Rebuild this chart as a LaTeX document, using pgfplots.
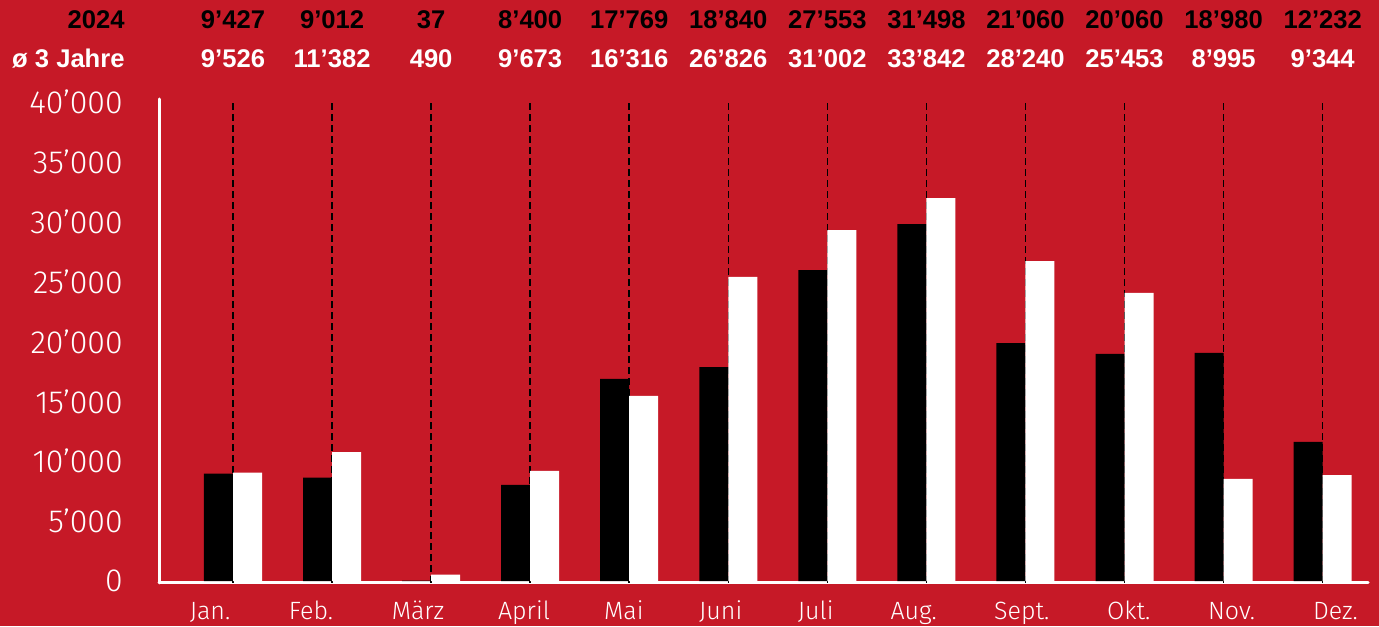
\documentclass[border=0pt]{standalone}
\usepackage{fontspec}
\usepackage{pgfplots}
\usepackage{pgfplotstable}
\pgfplotsset{compat=1.18}
\setmainfont{Liberation Sans}
\newfontfamily\lightfont{Fira Sans Light}
\definecolor{bgred}{RGB}{198,25,39}

\pgfplotstableread{
x a b
0 8960 9040
1 8630 10770
2 37 530
3 8020 9190
4 16870 15450
5 17870 25390
6 25970 29310
7 29810 31980
8 19870 26720
9 18960 24050
10 19040 8520
11 11610 8850
}\datatable

\begin{document}
\begin{tikzpicture}[x=0.5pt,y=0.5pt]
\fill[bgred] (0,0) rectangle (1379,626);
\begin{axis}[
  at={(79.5pt,21.6pt)}, anchor=south west, scale only axis,
  width=604.5pt, height=241.9pt,
  xmin=-0.747, xmax=11.458, ymin=-150, ymax=40250,
  axis lines=left,
  axis line style={white, line width=1.5pt, -, line cap=round},
  scaled y ticks=false,
  ytick={0,5000,10000,15000,20000,25000,30000,35000,40000},
  yticklabels={0,5’000,10’000,15’000,20’000,25’000,30’000,35’000,40’000},
  xtick={-0.232,0.787,1.867,2.937,3.946,4.924,5.883,6.872,7.962,9.042,10.08,11.13},
  xticklabels={Jan.,Feb.,März,April,Mai,Juni,Juli,Aug.,Sept.,Okt.,Nov.,Dez.},
  major tick length=0pt,
  extra x ticks={0,1,2,3,4,5,6,7,8,9,10,11},
  extra x tick labels={},
  extra x tick style={grid=major, major grid style={black, line width=0.75pt, dash pattern=on 3.5pt off 2pt}},
  yticklabel style={text=white, font=\lightfont\fontsize{16}{18}\selectfont, anchor=east, inner sep=0pt, xshift=-18pt},
  xticklabel style={text=white, font=\lightfont\fontsize{12.5}{14}\selectfont, anchor=north, inner sep=0pt, yshift=-9.6pt, text height=8.6pt, text depth=2.5pt},
]
\addplot[ybar, fill=black, draw=none, bar width=14.5pt, bar shift=-7.25pt] table[x=x, y=a] {\datatable};
\addplot[ybar, fill=white, draw=none, bar width=14.5pt, bar shift=7.25pt] table[x=x, y=b] {\datatable};
\end{axis}
\begin{scope}[font=\fontsize{12.8}{14}\selectfont\bfseries]
\node[anchor=base east, inner sep=0pt, text=black] at (125,597) {2024};
\node[anchor=base east, inner sep=0pt, text=white] at (125,558) {ø 3 Jahre};
\foreach \i/\a/\b in {0/9’427/9’526,1/9’012/11’382,2/37/490,3/8’400/9’673,4/17’769/16’316,5/18’840/26’826,6/27’553/31’002,7/31’498/33’842,8/21’060/28’240,9/20’060/25’453,10/18’980/8’995,11/12’232/9’344}{
  \node[anchor=base, inner sep=0pt, text=black] at ({233+99.06*\i},597) {\a};
  \node[anchor=base, inner sep=0pt, text=white] at ({233+99.06*\i},558) {\b};
}
\end{scope}
\end{tikzpicture}
\end{document}
